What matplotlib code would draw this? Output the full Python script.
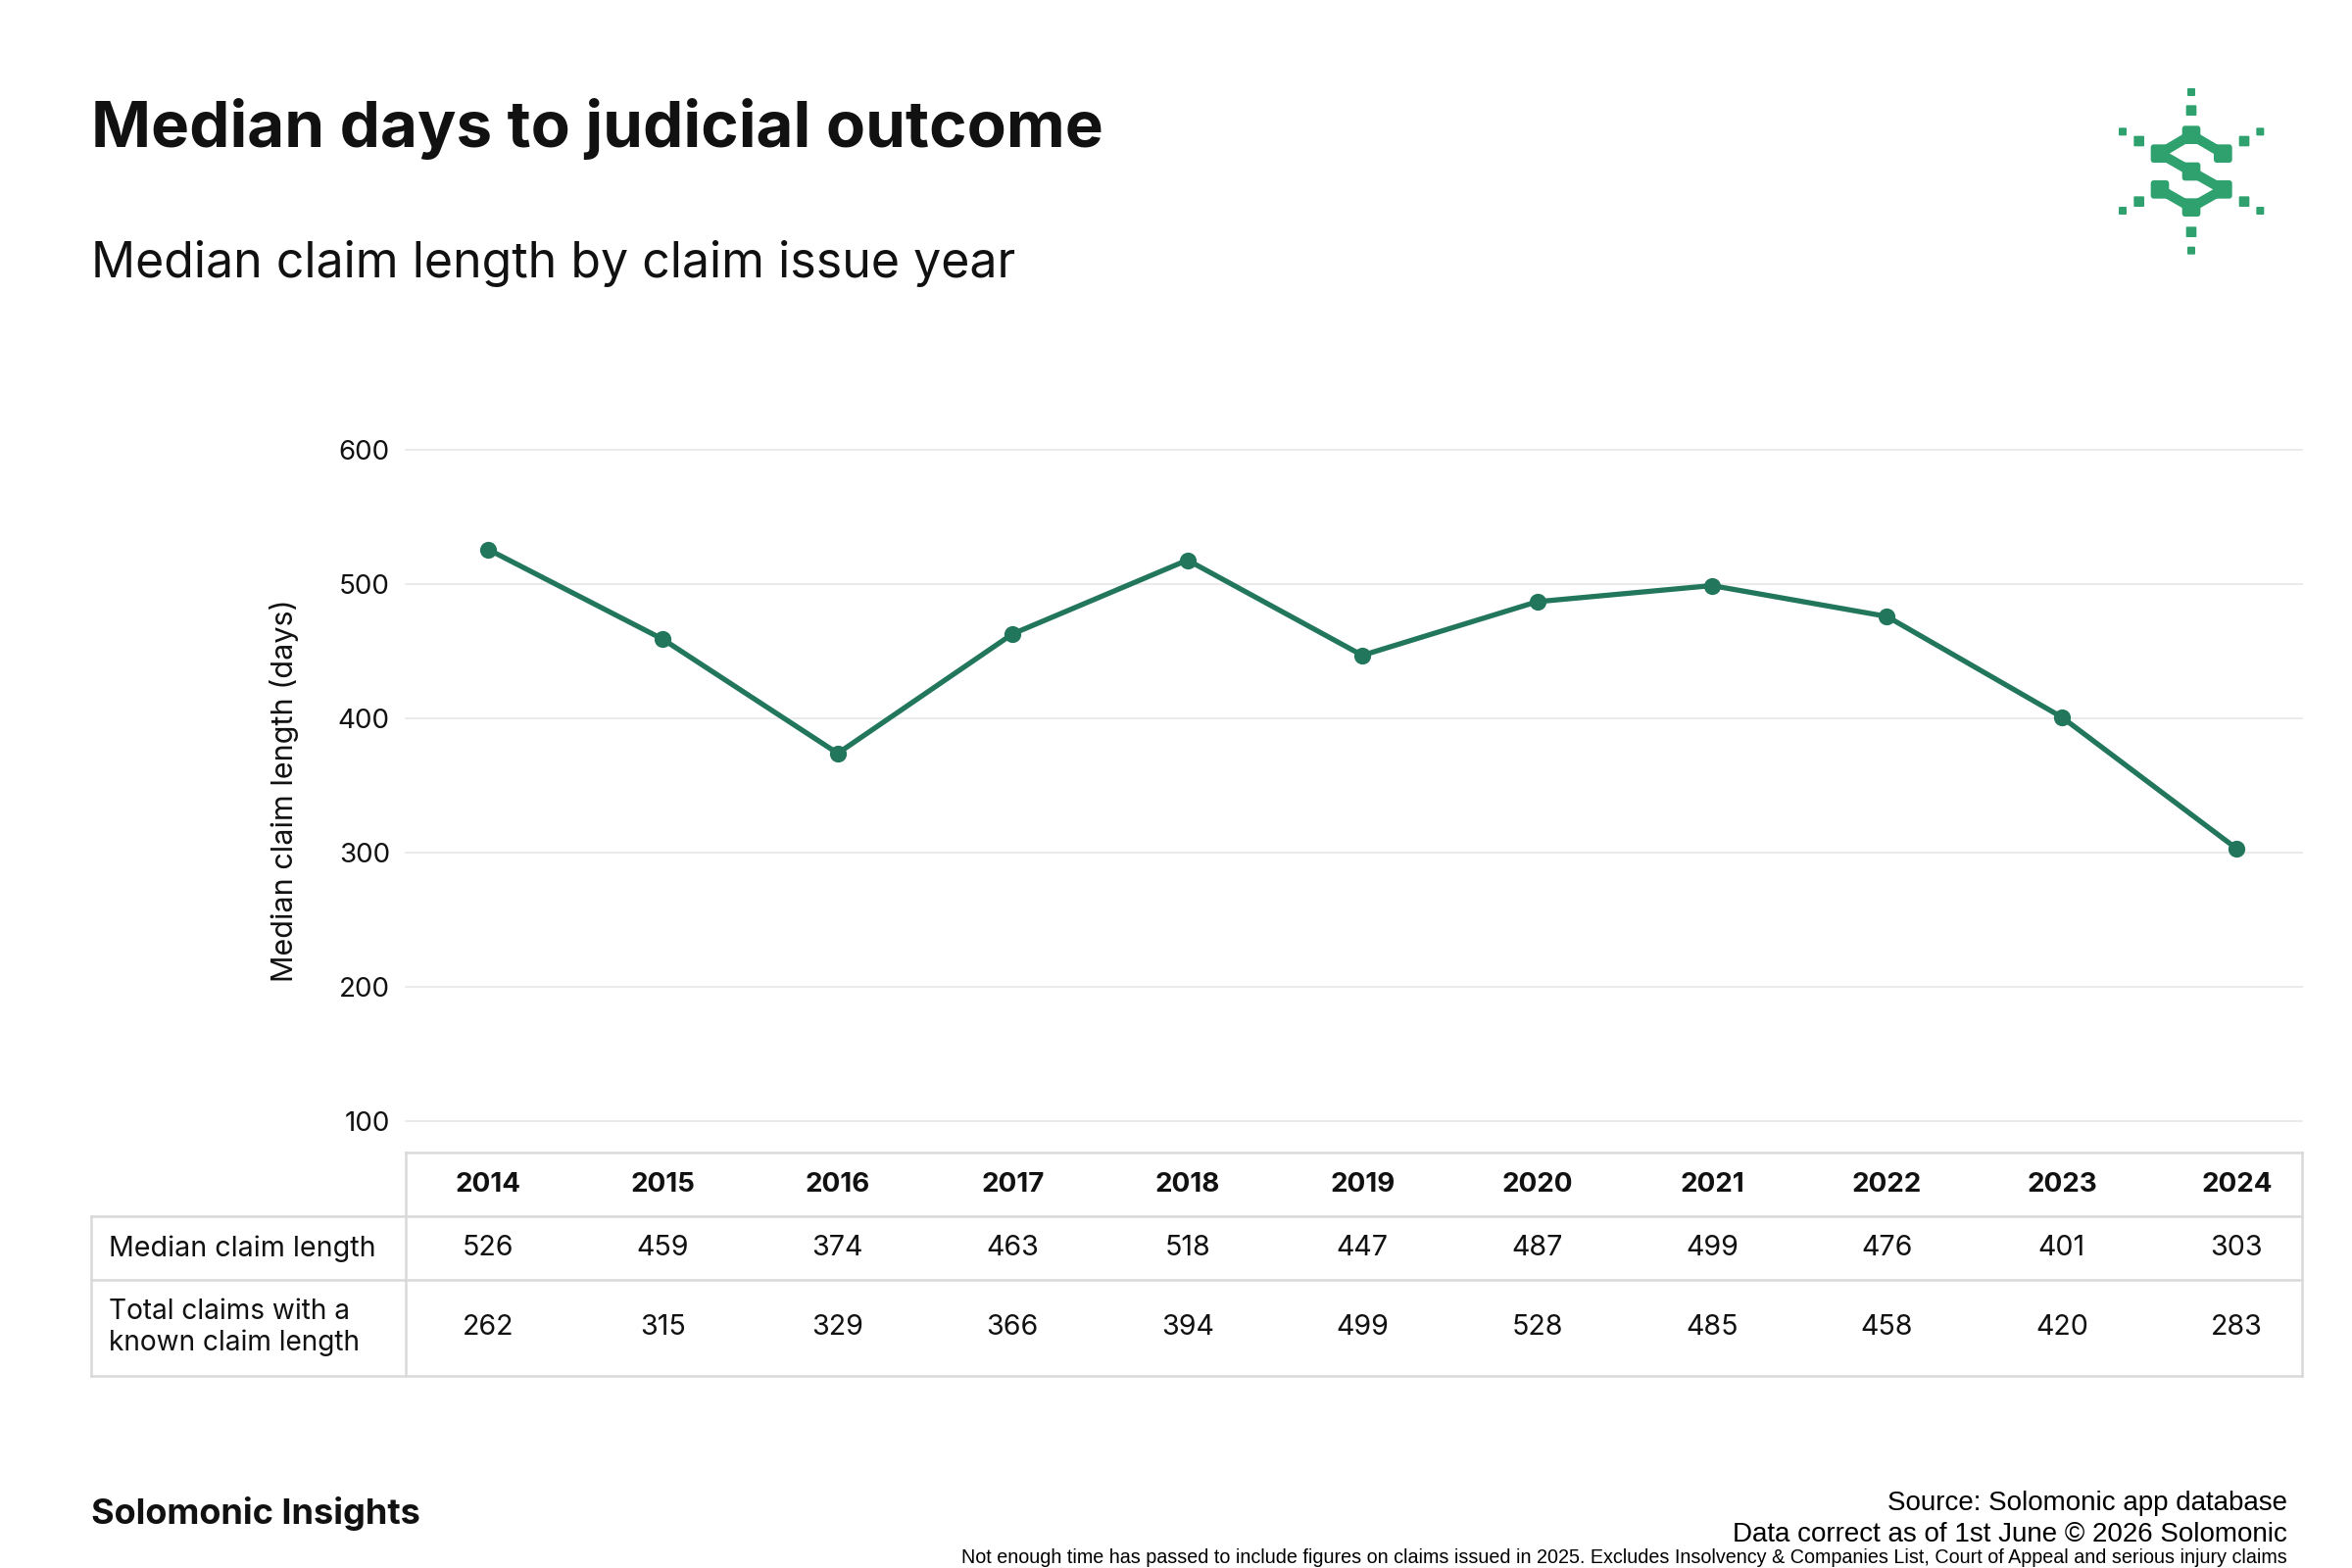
import matplotlib.pyplot as plt
import matplotlib.transforms as mtransforms
from matplotlib.lines import Line2D
from matplotlib.patches import FancyBboxPatch

# data
years = [2014, 2015, 2016, 2017, 2018, 2019, 2020, 2021, 2022, 2023, 2024]
median_days = [526, 459, 374, 463, 518, 447, 487, 499, 476, 401, 303]
total_claims = [262, 315, 329, 366, 394, 499, 528, 485, 458, 420, 283]
y_ticks = [100, 200, 300, 400, 500, 600]
row_labels = ["Median claim length", "Total claims with a\nknown claim length"]

line_col = "#21765c"
logo_col = "#2fa16f"
grid_col = "#ebebeb"
border_col = "#d9d9d9"

plt.rcParams['font.family'] = ['Inter', 'DejaVu Sans']

fig = plt.figure(figsize=(12, 8), dpi=200)
fig.patch.set_facecolor("white")

# titles
fig.text(0.0387, 0.918, "Median days to judicial outcome", fontsize=23.6, fontweight="bold",
         va="center", ha="left", color="#111111")
fig.text(0.0387, 0.832, "Median claim length by claim issue year", fontsize=18,
         va="center", ha="left", color="#111111")

# main line chart
ax = fig.add_axes([0.1727, 0.2850, 0.806, 0.4280])
ax.plot(years, median_days, color=line_col, lw=1.9, marker="o", ms=5.2, zorder=3)
ax.set_xlim(2013.532, 2024.373)
ax.set_ylim(100, 600)
ax.set_yticks(y_ticks)
ax.set_xticks([])
for t in y_ticks:
    ax.axhline(t, color=grid_col, lw=0.7, zorder=1, clip_on=False)
for s in ax.spines.values():
    s.set_visible(False)
ax.tick_params(axis="y", length=0, pad=6, labelsize=10, labelcolor="#111111")
fig.text(0.121, 0.4957, "Median claim length (days)", rotation=90, fontsize=11,
         va="center", ha="center", color="#111111")

# table under the chart
tr = mtransforms.blended_transform_factory(ax.transData, fig.transFigure)
for i, yr in enumerate(years):
    fig.text(yr, 0.2444, str(yr), transform=tr, ha="center", va="center",
             fontsize=10, fontweight="bold", color="#111111")
    fig.text(yr, 0.2039, str(median_days[i]), transform=tr, ha="center", va="center",
             fontsize=10.3, color="#111111")
    fig.text(yr, 0.1536, str(total_claims[i]), transform=tr, ha="center", va="center",
             fontsize=10.3, color="#111111")
fig.text(0.0464, 0.2039, row_labels[0], ha="left", va="center", fontsize=10.3, color="#111111")
fig.text(0.0464, 0.1536, row_labels[1], ha="left", va="center", fontsize=10.1,
         color="#111111", linespacing=1.2)

x_l, x_m, x_r = 0.0387, 0.1727, 0.9787
y_top, y_h, y_r1, y_r2 = 0.2647, 0.2242, 0.1836, 0.1227
borders = [
    ([x_m, x_r], [y_top, y_top]),
    ([x_l, x_r], [y_h, y_h]),
    ([x_l, x_r], [y_r1, y_r1]),
    ([x_l, x_r], [y_r2, y_r2]),
    ([x_l, x_l], [y_h, y_r2]),
    ([x_m, x_m], [y_top, y_r2]),
    ([x_r, x_r], [y_top, y_r2]),
]
for xs, ys in borders:
    fig.add_artist(Line2D(xs, ys, transform=fig.transFigure, color=border_col, lw=0.9))

# footer
fig.text(0.0387, 0.0345, "Solomonic Insights", fontsize=13, fontweight="bold",
         ha="left", va="center", color="#111111")
fig.text(0.9723, 0.0410, "Source: Solomonic app database", fontsize=10,
         ha="right", va="center", family=["Liberation Sans", "DejaVu Sans"])
fig.text(0.9723, 0.0210, "Data correct as of 1st June \u00a9 2026 Solomonic", fontsize=10,
         ha="right", va="center", family=["Liberation Sans", "DejaVu Sans"])
fig.text(0.9723, 0.0068, "Not enough time has passed to include figures on claims issued in 2025. "
         "Excludes Insolvency & Companies List, Court of Appeal and serious injury claims",
         fontsize=7.1, ha="right", va="center", family=["Liberation Sans", "DejaVu Sans"])

# logo (rounded squares joined into an S)
lax = fig.add_axes([0.875, 0.81875, 0.125, 0.14375])
lax.set_xlim(0, 900)
lax.set_ylim(690, 0)
lax.axis("off")
nodes = [(408, 233), (312, 290), (505, 290), (408, 345), (312, 400), (505, 400), (408, 455)]
links = [(0, 1), (0, 2), (1, 3), (3, 5), (4, 6), (6, 5)]
dots = [(408, 102, 24), (408, 158, 32), (408, 530, 32), (408, 587, 24),
        (248, 252, 32), (198, 223, 24), (570, 252, 32), (619, 223, 24),
        (248, 437, 32), (198, 465, 24), (570, 437, 32), (619, 465, 24)]
for a, b in links:
    lax.plot([nodes[a][0], nodes[b][0]], [nodes[a][1], nodes[b][1]], color=logo_col,
             lw=3.6, solid_capstyle="butt")
for cx, cy in nodes:
    s = 56
    lax.add_patch(FancyBboxPatch((cx - s / 2 + 9, cy - s / 2 + 9), s - 18, s - 18,
                                 boxstyle="round,pad=9", color=logo_col, lw=0))
for cx, cy, s in dots:
    lax.add_patch(FancyBboxPatch((cx - s / 2 + 3, cy - s / 2 + 3), s - 6, s - 6,
                                 boxstyle="round,pad=3", color=logo_col, lw=0))

fig.savefig("out.png", dpi=200, facecolor="white")
